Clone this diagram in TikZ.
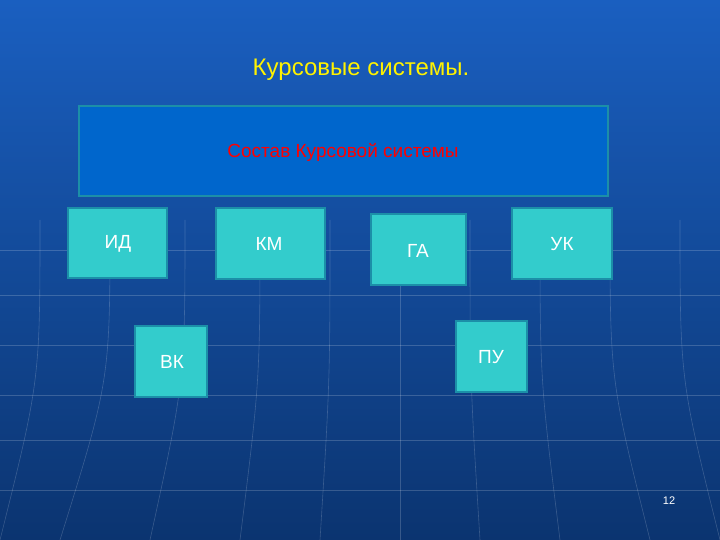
\documentclass[tikz,border=0pt]{standalone}
\usepackage{fontspec}
\setmainfont{Liberation Sans}
\begin{document}
\begin{tikzpicture}[x=1pt,y=-1pt,
  box/.style={draw=boxedge,line width=1.5pt,fill=cyanbox},
  btxt/.style={text=white,font=\fontsize{19}{22}\selectfont},
  gline/.style={draw=white,opacity=0.18,line width=0.6pt}]
\definecolor{cyanbox}{HTML}{33CCCC}
\definecolor{boxedge}{HTML}{1C8FA8}
\definecolor{topblue}{HTML}{1A5FC0}
\definecolor{botblue}{HTML}{0B3470}
\definecolor{panel}{HTML}{0066CC}
\shade[top color=topblue,bottom color=botblue] (0,0) rectangle (720,540);
\useasboundingbox (0,0) rectangle (720,540);
\foreach \yy in {250,295,345,395,440,490} \draw[gline] (0,\yy) -- (720,\yy);
\foreach \xx/\bx in {40/0,110/60,185/150,260/240,330/320,400/400,470/480,540/560,610/650,680/720}
  \draw[gline] (\xx,220) .. controls (\xx,380) .. (\bx,540);
\node[yellow,font=\fontsize{24}{28}\selectfont] (title) at (361,70) {Курсовые системы.};
\draw[draw=boxedge,line width=1.5pt,fill=panel] (79,106) rectangle (608,196);
\node[text=red,font=\fontsize{19}{22}\selectfont] (sostav) at (343,152) {Состав Курсовой системы};
\node[box,minimum width=99pt,minimum height=70pt] (id) at (117.5,243) {};
\node[btxt] (idt) at (118,244) {ИД};
\node[box,minimum width=109pt,minimum height=71pt] (km) at (270.5,243.5) {};
\node[btxt] (kmt) at (269,244) {КМ};
\node[box,minimum width=95pt,minimum height=71pt] (ga) at (418.5,249.5) {};
\node[btxt] (gat) at (418,251) {ГА};
\node[box,minimum width=100pt,minimum height=71pt] (uk) at (562,243.5) {};
\node[btxt] (ukt) at (562,244) {УК};
\node[box,minimum width=72pt,minimum height=71pt] (vk) at (171,361.5) {};
\node[btxt] (vkt) at (172,362) {ВК};
\node[box,minimum width=71pt,minimum height=71pt] (pu) at (491.5,356.5) {};
\node[btxt] (put) at (491,357) {ПУ};
\node[white,font=\fontsize{11}{13}\selectfont] (num) at (669,501) {12};
\end{tikzpicture}
\end{document}
